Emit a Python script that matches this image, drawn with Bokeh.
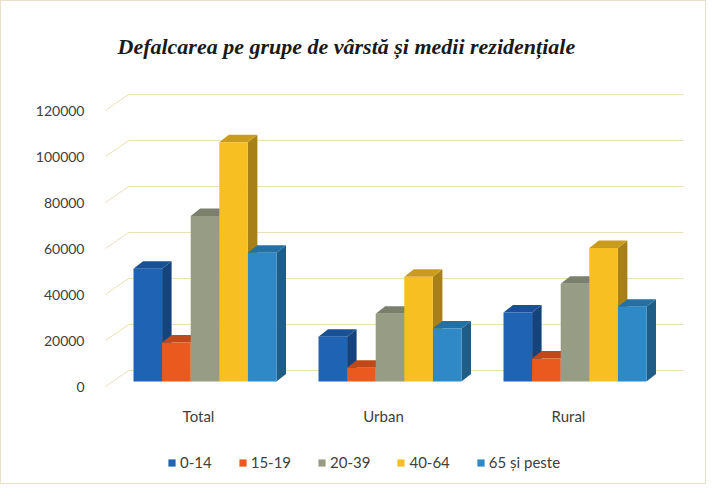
from bokeh.plotting import figure
from bokeh.models import Range1d, FixedTicker, Legend, LegendItem, NumeralTickFormatter
from bokeh.core.properties import value
from bokeh.embed import file_html
from bokeh.resources import INLINE

# ---------------- data ----------------
title = "Defalcarea pe grupe de vârstă și medii rezidențiale"
categories = ["Total", "Urban", "Rural"]
series_names = ["0-14", "15-19", "20-39", "40-64", "65 și peste"]
v_0_14 = [49000, 19500, 30000]
v_15_19 = [17000, 6000, 10000]
v_20_39 = [72000, 29500, 42500]
v_40_64 = [104000, 45500, 58000]
v_65 = [56000, 23000, 32500]
values = [v_0_14, v_15_19, v_20_39, v_40_64, v_65]
y_ticks = [0, 20000, 40000, 60000, 80000, 100000, 120000]

colors = ["#1F63B5", "#EA5A1E", "#979D85", "#F7BF22", "#2E89C6"]

# ---------------- style constants (pixel-derived) ----------------
PX_X = 185.0          # px per x unit
PX_Y = 0.0023         # px per y unit
W = 28.6 / PX_X       # bar width
SHIFT = 6.5 / PX_X    # perspective shift of bars
DX = 9.5 / PX_X       # depth shift x
DY = 7.5 / PX_Y       # depth shift y
BASE = 5 / PX_Y       # bars sit a bit behind front edge
GX0 = -93 / PX_X      # gridline front x
GX1 = -70 / PX_X      # gridline back x
GX2 = 485 / PX_X      # gridline right end
GRISE = 16 / PX_Y
CAT_Y = -29 / PX_Y    # category label row


def shade(hexc, f):
    h = hexc.lstrip("#")
    r, g, b = (int(h[i:i + 2], 16) for i in (0, 2, 4))
    return "#%02x%02x%02x" % (int(r * f), int(g * f), int(b * f))


p = figure(width=706, height=484, output_backend="svg", toolbar_location=None,
           x_range=Range1d(-105 / PX_X, 495 / PX_X),
           y_range=Range1d(-97 / PX_Y, 313 / PX_Y),
           min_border_left=92, min_border_right=14, min_border_top=72, min_border_bottom=2)
p.outline_line_color = None
p.xgrid.visible = False
p.ygrid.visible = False
p.xaxis.visible = False
p.styles = {"border": "1px solid #E6E1C8"}

p.title.text = title
p.title.align = "left"
p.title.offset = 24
p.title.standoff = 30
p.title.text_font = "Liberation Serif"
p.title.text_font_style = "bold italic"
p.title.text_font_size = "22px"
p.title.text_color = "#1A1A1A"

# gridlines (3D wall)
p.segment(x0=[GX0] * len(y_ticks), y0=y_ticks, x1=[GX1] * len(y_ticks),
          y1=[t + GRISE for t in y_ticks], line_color="#EAE2B4", line_width=1)
p.segment(x0=[GX1] * len(y_ticks), y0=[t + GRISE for t in y_ticks], x1=[GX2] * len(y_ticks),
          y1=[t + GRISE for t in y_ticks], line_color="#EAE2B4", line_width=1)

items = []
for i, (name, vals, col) in enumerate(zip(series_names, values, colors)):
    lefts = [g + SHIFT + (i - 2.5) * W for g in range(len(categories))]
    rights = [l + W for l in lefts]
    tops = [BASE + v for v in vals]
    side_xs = [[r, r + DX, r + DX, r] for r in rights]
    side_ys = [[BASE, BASE + DY, t + DY, t] for t in tops]
    top_xs = [[l, r, r + DX, l + DX] for l, r in zip(lefts, rights)]
    top_ys = [[t, t, t + DY, t + DY] for t in tops]
    p.patches(side_xs, side_ys, fill_color=shade(col, 0.68), line_color=None)
    p.patches(top_xs, top_ys, fill_color=shade(col, 0.82), line_color=None)
    r = p.quad(left=lefts, right=rights, bottom=[BASE] * len(vals), top=tops,
               fill_color=col, line_color=None)
    items.append(LegendItem(label=name, renderers=[r]))

# category labels
p.text(x=list(range(len(categories))), y=[CAT_Y] * len(categories), text=categories,
       text_align="center", text_baseline="middle", text_font=value("Lato"),
       text_font_size="15px", text_color="#404040")

# y axis
p.yaxis.ticker = FixedTicker(ticks=y_ticks)
p.yaxis.formatter = NumeralTickFormatter(format="0")
p.yaxis.axis_line_color = None
p.yaxis.major_tick_line_color = None
p.yaxis.minor_tick_line_color = None
p.yaxis.major_label_standoff = 3
p.yaxis.major_label_text_font = "Lato"
p.yaxis.major_label_text_font_size = "14px"
p.yaxis.major_label_text_color = "#404040"

legend = Legend(items=items, orientation="horizontal", location=(74, 12),
                label_text_font="Lato", label_text_font_size="15px", label_text_color="#404040",
                glyph_width=9, glyph_height=9, spacing=26, label_standoff=4,
                margin=0, padding=2,
                border_line_color=None, background_fill_alpha=0)
p.add_layout(legend, "center")

open("out.html", "w").write(file_html(p, INLINE))
